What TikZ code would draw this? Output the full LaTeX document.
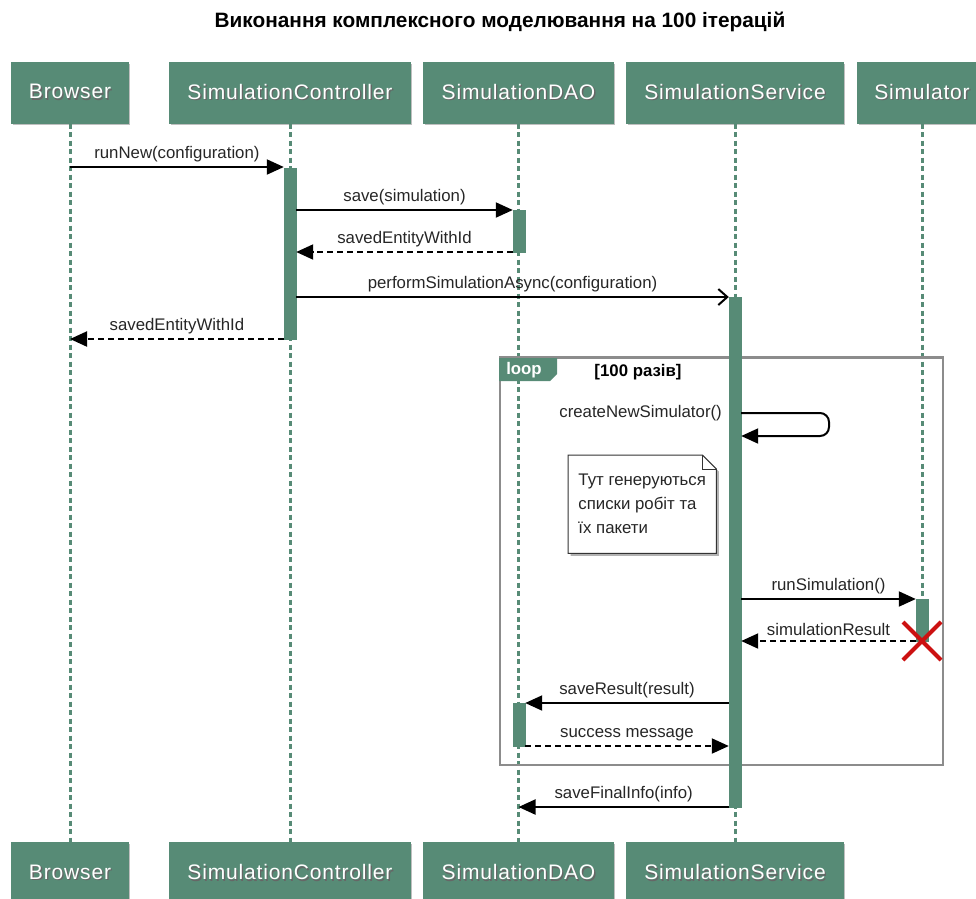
\documentclass[tikz,border=0pt]{standalone}
\usepackage{fontspec}
\setmainfont{Liberation Sans}
\newfontfamily\hdrfont[LetterSpace=4]{Liberation Sans}
\usetikzlibrary{arrows.meta,shadows,calc,backgrounds}

\definecolor{umlgreen}{HTML}{578B76}
\definecolor{framegray}{HTML}{8C8C8C}
\definecolor{xred}{HTML}{CC1111}

% white participant caption with a soft dark drop shadow
\newcommand\shadowed[1]{\leavevmode\rlap{\kern1.3pt\raisebox{-1.3pt}{\textcolor{black!60}{#1}}}\textcolor{white}{#1}}

\tikzset{
  participant/.style={fill=umlgreen, draw=umlgreen, line width=1pt,
    minimum height=61pt, inner sep=0pt,
    font=\hdrfont\fontsize{21}{24}\selectfont,
    drop shadow={shadow xshift=1.5pt, shadow yshift=-1.5pt, fill=black, opacity=0.25}},
  lifeline/.style={umlgreen, line width=3pt, dash pattern=on 5pt off 3.5pt},
  activation/.style={fill=umlgreen, draw=umlgreen, minimum width=12pt, inner sep=0pt},
  lbl/.style={font=\fontsize{16.8}{20}\selectfont, text=black!85, inner sep=0pt, above=4pt},
  call/.style={line width=2pt, -{Triangle[length=17pt,width=15pt]}},
  ret/.style={line width=2pt, dash pattern=on 6pt off 4pt, -{Triangle[length=17pt,width=15pt]}},
  async/.style={line width=2pt, -{Straight Barb[length=9pt,width=16pt,line width=2pt]}},
  loopframe/.style={draw=framegray, line width=2pt, inner sep=0pt},
  notebox/.style={fill=white, draw=black!80, line width=1pt,
    drop shadow={shadow xshift=2.5pt, shadow yshift=-2.5pt, fill=black, opacity=0.3}},
  destroy/.style={xred, line width=4pt},
}

\begin{document}
\begin{tikzpicture}[x=1pt,y=-1pt]
\useasboundingbox (0,0) rectangle (976,898);

% title
\node[font=\bfseries\fontsize{20.8}{24}\selectfont] (title) at (500,22)
  {Виконання комплексного моделювання на 100 ітерацій};

% participants, top row
\node[participant, minimum width=117pt] (browser)    at (70,92.5)    {\shadowed{Browser}};
\node[participant, minimum width=241pt] (controller) at (290,92.5)   {\shadowed{SimulationController}};
\node[participant, minimum width=190pt] (dao)        at (518.5,92.5) {\shadowed{SimulationDAO}};
\node[participant, minimum width=217pt] (service)    at (735,92.5)   {\shadowed{SimulationService}};
\node[participant, minimum width=130pt] (simulator)  at (922,92.5)   {\shadowed{Simulator}};

% participants, bottom row
\node[participant, minimum width=117pt] (browserF)    at (70,873)    {\shadowed{Browser}};
\node[participant, minimum width=241pt] (controllerF) at (290,873)   {\shadowed{SimulationController}};
\node[participant, minimum width=190pt] (daoF)        at (518.5,873) {\shadowed{SimulationDAO}};
\node[participant, minimum width=217pt] (serviceF)    at (735,873)   {\shadowed{SimulationService}};

% end of the simulator's life
\coordinate (simX) at (922,641);

% lifelines
\draw[lifeline] (browser.south)    -- (browserF.north);
\draw[lifeline] (controller.south) -- (controllerF.north);
\draw[lifeline] (dao.south)        -- (daoF.north);
\draw[lifeline] (service.south)    -- (serviceF.north);
\draw[lifeline] (simulator.south)  -- (simX);

% loop fragment
\node[loopframe, minimum width=443pt, minimum height=407pt, anchor=north west] (loop) at (499,357) {};
\fill[umlgreen] (loop.north west) -- ++(58,0) -- ++(0,17) -- ++(-7,7) -- ++(-51,0) -- cycle;
\draw[framegray, line width=2pt] (loop.north west) -- (loop.north east);
\node[font=\bfseries\fontsize{16.8}{20}\selectfont, text=white] (loopkw) at (524,370) {loop};
\node[font=\bfseries\fontsize{16.8}{20}\selectfont] (guard) at (638,372) {[100 разів]};

% activation bars
\node[activation, minimum height=171pt] (actC)  at (290,253.5) {};
\node[activation, minimum height=42pt]  (actD1) at (519,231)   {};
\node[activation, minimum height=510pt] (actS)  at (735,552)   {};
\node[activation, minimum height=42pt]  (actR)  at (922,620)   {};
\node[activation, minimum height=43pt]  (actD2) at (519,724.5) {};

% note with a folded corner
\node[minimum width=148pt, minimum height=98pt, anchor=north west, inner sep=0pt,
      align=left, font=\fontsize{16.8}{24}\selectfont, text=black!85] (note) at (568,455)
  {\rule{0pt}{6pt}Тут генеруються\\списки робіт та\\їх пакети};
\begin{scope}[on background layer]
\draw[notebox] (note.north west) -- ($(note.north east)+(-14,0)$) -- ($(note.north east)+(0,14)$)
  -- (note.south east) -- (note.south west) -- cycle;
\draw[black!80, line width=1pt] ($(note.north east)+(-14,0)$) -- ($(note.north east)+(-14,14)$) -- ($(note.north east)+(0,14)$);
\end{scope}

% messages
\draw[call] (browser.south |- 0,167) -- node[lbl] {runNew(configuration)} (actC.west |- 0,167);
\draw[call] (actC.east |- 0,210) -- node[lbl] {save(simulation)} (actD1.west |- 0,210);
\draw[ret]  (actD1.west |- 0,252) -- node[lbl] {savedEntityWithId} (actC.east |- 0,252);
\draw[async] (actC.east |- 0,297) -- node[lbl] {performSimulationAsync(configuration)} (actS.west |- 0,297);
\draw[ret]  (actC.west |- 0,339) -- node[lbl] {savedEntityWithId} (browser.south |- 0,339);

\draw[call, rounded corners=9pt] (actS.east |- 0,413) -- (829,413) -- (829,436) -- (actS.east |- 0,436);
\node[font=\fontsize{16.8}{20}\selectfont, text=black!85, anchor=east, inner sep=0pt] (createlbl) at (722,413) {createNewSimulator()};

\draw[call] (actS.east |- 0,599) -- node[lbl] {runSimulation()} (actR.west |- 0,599);
\draw[ret]  (actR.west |- 0,641) -- node[lbl] {simulationResult} (actS.east |- 0,641);

\draw[call] (actS.west |- 0,703) -- node[lbl] {saveResult(result)} (actD2.east |- 0,703);
\draw[ret]  (actD2.east |- 0,746) -- node[lbl] {success message} (actS.west |- 0,746);
\draw[call] (actS.west |- 0,807) -- node[lbl] {saveFinalInfo(info)} (dao.south |- 0,807);

% destruction mark
\draw[destroy] ($(simX)+(-19,-19)$) -- ($(simX)+(19,19)$);
\draw[destroy] ($(simX)+(-19,19)$) -- ($(simX)+(19,-19)$);
\end{tikzpicture}
\end{document}
